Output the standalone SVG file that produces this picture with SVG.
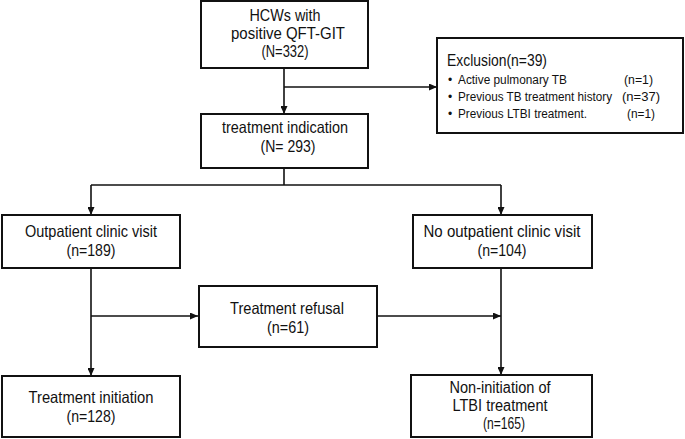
<svg xmlns="http://www.w3.org/2000/svg" width="685" height="439" viewBox="0 0 685 439">
<style>
.box{fill:#fff;stroke:#111;stroke-width:2}
.ln{fill:none;stroke:#111;stroke-width:1.6}
text{font-family:"Liberation Sans Narrow","Liberation Sans",Arial,sans-serif;fill:#111;font-size:16.5px}
.c{text-anchor:middle}
.m{font-size:16px}
.s{font-size:12px}
</style>
<defs>
<marker id="ah" markerUnits="userSpaceOnUse" markerWidth="8" markerHeight="7" refX="8" refY="3.5" orient="auto">
<path d="M0,0 L8,3.5 L0,7 z" fill="#111"/>
</marker>
</defs>
<rect width="685" height="439" fill="#fff"/>
<g id="connectors">
<line class="ln" x1="284" y1="68" x2="284" y2="114" marker-end="url(#ah)"/>
<line class="ln" x1="284" y1="87" x2="437" y2="87" marker-end="url(#ah)"/>
<polyline class="ln" points="284,168 284,185"/>
<line class="ln" x1="91" y1="185" x2="501" y2="185"/>
<line class="ln" x1="91" y1="185" x2="91" y2="215" marker-end="url(#ah)"/>
<line class="ln" x1="501" y1="185" x2="501" y2="215" marker-end="url(#ah)"/>
<line class="ln" x1="91" y1="268" x2="91" y2="376" marker-end="url(#ah)"/>
<line class="ln" x1="91" y1="316" x2="198" y2="316" marker-end="url(#ah)"/>
<line class="ln" x1="377" y1="316" x2="501" y2="316" marker-end="url(#ah)"/>
<line class="ln" x1="501" y1="268" x2="501" y2="375" marker-end="url(#ah)"/>
</g>
<g id="hcw">
<rect class="box" x="201" y="1" width="167" height="67"/>
<text class="c m" x="285" y="21" textLength="71" lengthAdjust="spacingAndGlyphs">HCWs with</text>
<text class="c m" x="288" y="39" textLength="114" lengthAdjust="spacingAndGlyphs">positive QFT-GIT</text>
<text class="c m" x="285" y="57" textLength="47" lengthAdjust="spacingAndGlyphs">(N=332)</text>
</g>
<g id="exclusion">
<rect class="box" x="437" y="38" width="246" height="95"/>
<text x="447" y="66" textLength="100" lengthAdjust="spacingAndGlyphs">Exclusion(n=39)</text>
<text class="s" x="448" y="84">•</text>
<text class="s" x="458" y="84" textLength="109" lengthAdjust="spacingAndGlyphs">Active pulmonary TB</text>
<text class="s" x="624" y="84" textLength="29" lengthAdjust="spacingAndGlyphs">(n=1)</text>
<text class="s" x="448" y="101">•</text>
<text class="s" x="458" y="101" textLength="154" lengthAdjust="spacingAndGlyphs">Previous TB treatment history</text>
<text class="s" x="622" y="101" textLength="38" lengthAdjust="spacingAndGlyphs">(n=37)</text>
<text class="s" x="448" y="118">•</text>
<text class="s" x="458" y="118" textLength="129" lengthAdjust="spacingAndGlyphs">Previous LTBI treatment.</text>
<text class="s" x="627" y="118" textLength="28" lengthAdjust="spacingAndGlyphs">(n=1)</text>
</g>
<g id="indication">
<rect class="box" x="201" y="114" width="167" height="54"/>
<text class="c" x="285" y="133" textLength="126" lengthAdjust="spacingAndGlyphs">treatment indication</text>
<text class="c" x="288" y="152" textLength="55" lengthAdjust="spacingAndGlyphs">(N= 293)</text>
</g>
<g id="outpatient">
<rect class="box" x="2" y="215" width="178" height="53"/>
<text class="c" x="91" y="237" textLength="132" lengthAdjust="spacingAndGlyphs">Outpatient clinic visit</text>
<text class="c" x="91" y="256" textLength="49" lengthAdjust="spacingAndGlyphs">(n=189)</text>
</g>
<g id="no-outpatient">
<rect class="box" x="413" y="215" width="179" height="53"/>
<text class="c" x="502" y="237" textLength="157" lengthAdjust="spacingAndGlyphs">No outpatient clinic visit</text>
<text class="c" x="502" y="256" textLength="49" lengthAdjust="spacingAndGlyphs">(n=104)</text>
</g>
<g id="refusal">
<rect class="box" x="199" y="286" width="178" height="61"/>
<text class="c" x="287" y="314" textLength="114" lengthAdjust="spacingAndGlyphs">Treatment refusal</text>
<text class="c" x="288" y="333" textLength="42" lengthAdjust="spacingAndGlyphs">(n=61)</text>
</g>
<g id="initiation">
<rect class="box" x="2" y="376" width="178" height="61"/>
<text class="c" x="91" y="403" textLength="125" lengthAdjust="spacingAndGlyphs">Treatment initiation</text>
<text class="c" x="91" y="422" textLength="49" lengthAdjust="spacingAndGlyphs">(n=128)</text>
</g>
<g id="non-initiation">
<rect class="box" x="411" y="375" width="181" height="62"/>
<text class="c m" x="500" y="393" textLength="101" lengthAdjust="spacingAndGlyphs">Non-initiation of</text>
<text class="c m" x="500" y="411" textLength="95" lengthAdjust="spacingAndGlyphs">LTBI treatment</text>
<text class="c m" x="504" y="429" textLength="42" lengthAdjust="spacingAndGlyphs">(n=165)</text>
</g>
</svg>
